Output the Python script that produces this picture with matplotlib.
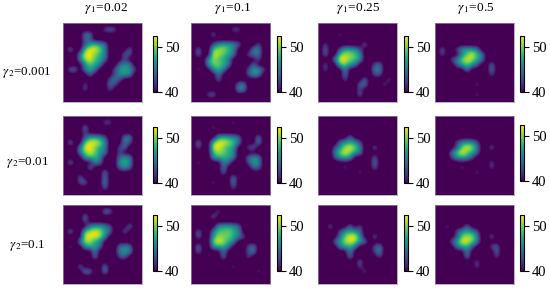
import numpy as np
import matplotlib
matplotlib.use("Agg")
import matplotlib.pyplot as plt

plt.rcParams['font.family'] = ['Liberation Serif', 'DejaVu Serif']
plt.rcParams['mathtext.fontset'] = 'stix'

gamma1_labels = ['0.02', '0.1', '0.25', '0.5']
gamma2_labels = ['0.001', '0.01', '0.1']
colorbar_ticks = [40, 50]
vmin, vmax = 40, 52.5

# value for each code character; 0 is the off-scale background
levels = {'0': 38.5, '1': 43.0, '2': 44.5, '3': 45.5, '4': 46.0, '5': 46.5, '6': 47.0,
          '7': 47.5, '8': 48.0, '9': 49.0, 'a': 49.8, 'b': 50.8, 'c': 52.5}

p11 = ["0000000000000000","0000000012100000","0000320000000000","0000210000000000",
       "0000169620000000","0300acca30000200","0003cca830002100","0003bc9720001000",
       "0000597300024300","0220373000157510","0000020000146400","0000000001310000",
       "0000100002100000","0000100001000000","0000000000000000","0000000000000000"]
p12 = ["0000000000000000","0000000011000000","0000200000000000","0000000000000000",
       "0000157742000100","0200abb840003400","0200cb9730012300","0005b97300000100",
       "0005aa8400002000","0100584000016510","0000030000015400","0000020000000000",
       "0000000002400000","0000000004400000","0001200000000000","0000000000000000"]
p13 = ["0000000000000000","0000000000000000","0000100000000000","0000000000000000",
       "0100000002000000","0200186510000000","0200abb950000000","0005cca960000000",
       "0100aa6300012000","0100040000043000","0000030000011000","0000010002000010",
       "0000000023000100","0000000010000000","0000000020000000","0000000000000000"]
p14 = ["0000000000000000","0000000000000000","0000000000000000","0000000000000000",
       "0000000000000000","0200157630000000","0100049c93000000","00014acb73000000",
       "000027a620020000","0000003000030000","0000000000010000","0000000000000000",
       "0000000010000000","0000000000000000","0000000010000000","0000000000000000"]
p21 = ["0000000000000000","0000000011000000","0000300000000000","0000100000000000",
       "0000167410003400","0300accb50003100","0003cca730012000","0003aca530010000",
       "0000688400025300","0300005200067500","0000030000025200","0000000030000000",
       "0002000030000000","0001200050000000","0000000020000000","0000000000000000"]
p22 = ["0000000000000000","0000000010000000","0000100000000000","0000000000000000",
       "0000068742000300","0300accb93000400","0100cca860012000","00009ba840000000",
       "0000588730025300","0100003200016500","0000003000002200","0000002000000000",
       "0000000030000000","0000100040000000","0000000010000000","0000000000000000"]
p23 = ["0000000000000000","0000000000000000","0000000000000000","0000000000000000",
       "0000002000000000","0000267610000000","00014bca40020000","0004aca730000000",
       "0001686000020000","0000000000030000","0000010000020000","0000000010000000",
       "0000000000000000","0000000000000000","0000000000000000","0000000000000000"]
p24 = ["0000000000000000","0000000000000000","0000000000000000","0000000000000000",
       "0000000000000000","0000146510000000","00001acb40020000","0003aca720000000",
       "0001586100000000","0000000000010000","0000010000010000","0000000010000000",
       "0000000000000000","0000000000000000","0000000000000000","0000000000000000"]
p31 = ["0000000000000000","0000000032000000","0000300000000000","0000100000000000",
       "0000046731000300","0300abcb62002000","0000cccb50000000","0003bb7400000000",
       "0100586200024200","0000003000045500","0000003000012000","0000000000000000",
       "0002000030000000","0000420040000000","0000000000000000","0000000000000000"]
p32 = ["0000000000000000","0000010000000000","0000200000000000","0000000000000000",
       "0000057752000000","0200399a84000000","02006baa73100000","0000bcb850000000",
       "0300688300013000","0200002000014000","0000003000010000","0000000000000000",
       "0000000010000000","0000000000000100","0000000000000000","0000000000000000"]
p33 = ["0000000000000000","0000000000000000","0000000000000000","0000000000000000",
       "0020002010000000","0000157520000000","00002acc50020000","00026bcb62000000",
       "0000478300013000","0000004000014000","0000003000001000","0000000020000000",
       "0000000010000000","0000000001000000","0000000000000000","0000000000000000"]
p34 = ["0000000000000000","0000000000000000","0000000000000000","0000000000000000",
       "0010002000000000","0000157410000000","00001abb40020000","00026cca50000000",
       "0000478200012000","0000004000002000","0000003000001000","0000000010000000",
       "0000000010000000","0000000000000000","0000000000000000","0000000000000000"]
panels = [[p11, p12, p13, p14], [p21, p22, p23, p24], [p31, p32, p33, p34]]

W, H = 550, 288
fig = plt.figure(figsize=(W / 100, H / 100), dpi=100)

def rect(x0, y0, x1, y1):
    return [x0 / W, 1 - y1 / H, (x1 - x0) / W, (y1 - y0) / H]

panel_x = [63, 191, 318, 435]
panel_y = [23, 116, 205]
panel_size = 79
cb_x = [153, 277, 404, 520]
cb_y = [[36, 36, 36, 36], [127, 127, 127, 125], [215, 215, 215, 215]]
cb_h = 56

for r, row in enumerate(panels):
    for c, grid in enumerate(row):
        values = np.array([[levels[ch] for ch in line] for line in grid], float)
        x0, y0 = panel_x[c], panel_y[r]
        ax = fig.add_axes(rect(x0, y0, x0 + panel_size, y0 + panel_size))
        im = ax.imshow(values, cmap='viridis', vmin=vmin, vmax=vmax,
                       interpolation='bicubic', aspect='auto')
        ax.set_xticks([])
        ax.set_yticks([])
        for s in ax.spines.values():
            s.set_linewidth(0.5)
            s.set_color('#9a94a6')
        cax = fig.add_axes(rect(cb_x[c], cb_y[r][c], cb_x[c] + 4, cb_y[r][c] + cb_h))
        cb = fig.colorbar(im, cax=cax, ticks=colorbar_ticks)
        cb.outline.set_linewidth(0.8)
        cb.ax.tick_params(length=3.5, width=0.8, pad=2, labelsize=10.5)

title_x = [106, 233, 357.7, 475.7]
for x, lab in zip(title_x, gamma1_labels):
    fig.text(x / W, 1 - 9 / H, r'$\gamma_{\,1}$=' + lab, ha='center', va='center', fontsize=9.6)
row_y = [72, 162, 245.7]
for y, lab in zip(row_y, gamma2_labels):
    fig.text(27 / W, 1 - y / H, r'$\gamma_{\,2}$=' + lab, ha='center', va='center', fontsize=9.4)

fig.savefig('out.png', dpi=100)
